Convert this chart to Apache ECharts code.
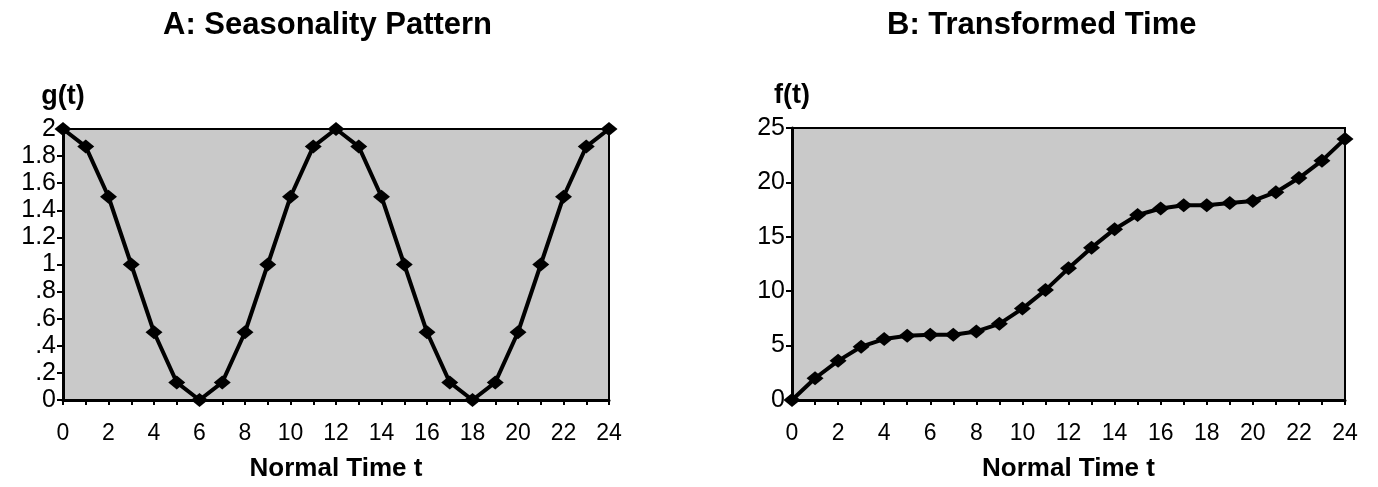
<!DOCTYPE html>
<html>
<head>
<meta charset="utf-8">
<script src="https://cdn.jsdelivr.net/npm/echarts@6/dist/echarts.min.js"></script>
<style>
  html, body { margin: 0; padding: 0; background: #fff; }
  #main { width: 1378px; height: 487px; }
</style>
</head>
<body>
<div id="main"></div>
<script>
// normal time t = 0..24
var timeT = [0, 1, 2, 3, 4, 5, 6, 7, 8, 9, 10, 11, 12, 13, 14, 15, 16, 17, 18, 19, 20, 21, 22, 23, 24];
// A: seasonality pattern g(t)
var seasonG = [2, 1.87, 1.5, 1, 0.5, 0.13, 0, 0.13, 0.5, 1, 1.5, 1.87, 2, 1.87, 1.5, 1, 0.5, 0.13, 0, 0.13, 0.5, 1, 1.5, 1.87, 2];
// B: transformed time f(t)
var transF = [0, 2.0, 3.6, 4.9, 5.6, 5.9, 6.0, 6.0, 6.3, 7.0, 8.4, 10.1, 12.1, 14.0, 15.7, 17.0, 17.6, 17.9, 17.9, 18.1, 18.3, 19.1, 20.4, 22.0, 24.0];

var titleA = 'A: Seasonality Pattern';
var titleB = 'B: Transformed Time';
var xName = 'Normal Time t';

var myChart = echarts.init(document.getElementById('main'));

var FONT = '"Liberation Sans", Arial, sans-serif';

function pairs(ys) {
  var out = [];
  for (var i = 0; i < timeT.length; i++) out.push([timeT[i], ys[i]]);
  return out;
}

function xAxisCfg(idx) {
  return {
    type: 'value',
    gridIndex: idx,
    min: 0,
    max: 24,
    interval: 1,
    name: xName,
    nameLocation: 'middle',
    nameGap: 56,
    nameTextStyle: { color: '#000', fontFamily: FONT, fontWeight: 'bold', fontSize: 26 },
    axisLine: { show: true, lineStyle: { color: '#000', width: 3 } },
    axisTick: { show: true, inside: false, length: 5, lineStyle: { color: '#000', width: 2 } },
    splitLine: { show: false },
    axisLabel: {
      color: '#000',
      fontFamily: FONT,
      fontSize: 23,
      margin: 22,
      formatter: function (v) { return v % 2 === 0 ? String(v) : ''; }
    }
  };
}

function yAxisCfg(idx, max, step, name, fmt) {
  return {
    type: 'value',
    gridIndex: idx,
    min: 0,
    max: max,
    interval: step,
    name: name,
    nameLocation: 'end',
    nameGap: 19,
    nameTextStyle: { color: '#000', fontFamily: FONT, fontWeight: 'bold', fontSize: 27 },
    axisLine: { show: true, lineStyle: { color: '#000', width: 3 } },
    axisTick: { show: true, inside: false, length: 6, lineStyle: { color: '#000', width: 2 } },
    splitLine: { show: false },
    axisLabel: {
      color: '#000',
      fontFamily: FONT,
      fontSize: 25,
      margin: 7,
      formatter: fmt
    }
  };
}

// .2 .4 ... style labels, no leading zero
function fmtA(v) {
  if (v === 0) return '0';
  return String(+v.toFixed(1)).replace(/^0\./, '.');
}

function lineSeries(idx, ys) {
  return {
    type: 'line',
    xAxisIndex: idx,
    yAxisIndex: idx,
    data: pairs(ys),
    symbol: 'diamond',
    symbolSize: [17, 14],
    showSymbol: true,
    clip: false,
    itemStyle: { color: '#000' },
    lineStyle: { color: '#000', width: 4 },
    animation: false
  };
}

var option = {
  backgroundColor: '#fff',
  animation: false,
  title: [
    { text: titleA, left: 158, top: 5, textStyle: { fontFamily: FONT, fontWeight: 'bold', fontSize: 31, color: '#000' } },
    { text: titleB, left: 882, top: 5, textStyle: { fontFamily: FONT, fontWeight: 'bold', fontSize: 31, color: '#000' } }
  ],
  grid: [
    { left: 63, right: 769, top: 129, bottom: 85, show: true, backgroundColor: '#c9c9c9', borderColor: '#000', borderWidth: 2 },
    { left: 792, right: 33, top: 128, bottom: 87, show: true, backgroundColor: '#c9c9c9', borderColor: '#000', borderWidth: 2 }
  ],
  xAxis: [xAxisCfg(0), xAxisCfg(1)],
  yAxis: [
    yAxisCfg(0, 2, 0.2, 'g(t)', fmtA),
    yAxisCfg(1, 25, 5, 'f(t)', function (v) { return String(v); })
  ],
  series: [lineSeries(0, seasonG), lineSeries(1, transF)]
};

option && myChart.setOption(option);
</script>
</body>
</html>
